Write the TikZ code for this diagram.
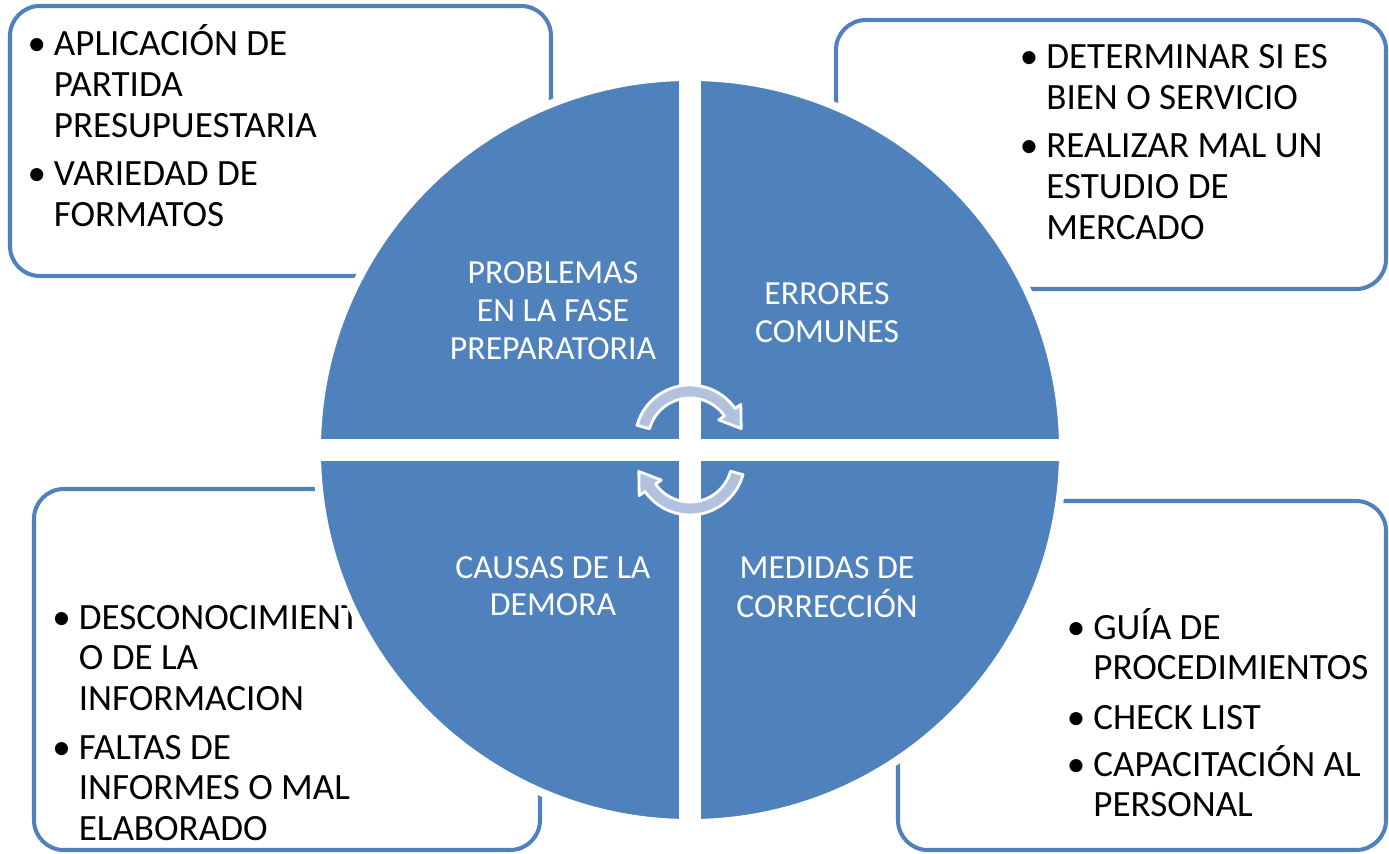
\documentclass[tikz,border=0pt]{standalone}
\usepackage{fontspec}
\setmainfont{Carlito}
\definecolor{azul}{RGB}{79,129,189}
\definecolor{flecha}{RGB}{178,194,222}
\tikzset{
  caja/.style={draw=azul, line width=2.3pt, rounded corners=17pt},
  lista/.style={anchor=base west, inner sep=0pt, font=\fontsize{21.1}{23.3}\selectfont},
  cuarto/.style={anchor=base, inner sep=0pt, text=white, font=\fontsize{19.2}{21.6}\selectfont},
  giro/.style={fill=flecha, draw=white, line width=1.6pt, line join=round}
}
\newcommand{\vineta}[1]{\llap{\textbullet\hspace{4.5pt}}\begin{tabular}[t]{@{}l@{}}#1\end{tabular}}
\newcommand{\centrado}[1]{\begin{tabular}[t]{@{}c@{}}#1\end{tabular}}
\begin{document}
\begin{tikzpicture}[x=0.02cm,y=0.02cm]
  \useasboundingbox (0,0) rectangle (1389,853);
  % cajas de texto
  \draw[caja] (10,577) rectangle (551,847);
  \draw[caja] (836,564) rectangle (1386,833);
  \draw[caja] (34,3) rectangle (540,364);
  \draw[caja] (898,3) rectangle (1386,352);
  \node[lista] (prob1) at (53.6,797) {\vineta{APLICACIÓN DE\\PARTIDA\\PRESUPUESTARIA}};
  \node[lista] (prob2) at (53.6,667) {\vineta{VARIEDAD DE\\FORMATOS}};
  \node[lista] (err1) at (1046,784) {\vineta{DETERMINAR SI ES\\BIEN O SERVICIO}};
  \node[lista] (err2) at (1046,695) {\vineta{REALIZAR MAL UN\\ESTUDIO DE\\MERCADO}};
  \node[lista] (caus1) at (78.5,224) {\vineta{DESCONOCIMIENT\\O DE LA\\INFORMACION}};
  \node[lista] (caus2) at (78.5,94) {\vineta{FALTAS DE\\INFORMES O MAL\\ELABORADO}};
  \node[lista] (med1) at (1093,214) {\vineta{GUÍA DE\\PROCEDIMIENTOS}};
  \node[lista] (med2) at (1093,124) {\vineta{CHECK LIST}};
  \node[lista] (med3) at (1093,77) {\vineta{CAPACITACIÓN AL\\PERSONAL}};
  % circulo en cuatro partes
  \filldraw[fill=azul, draw=white, line width=4.5pt] (690,403) circle (373);
  \fill[white] (679,25) rectangle (701,781);
  \fill[white] (312,392) rectangle (1068,414);
  \node[cuarto] (fase) at (553,569) {\centrado{PROBLEMAS\\EN LA FASE\\PREPARATORIA}};
  \node[cuarto] (errores) at (827,548) {\centrado{ERRORES\\COMUNES}};
  \node[cuarto] (causas) at (553,275) {\centrado{CAUSAS DE LA\\DEMORA}};
  \node[cuarto] (medidas) at (827,275) {\centrado{MEDIDAS DE\\CORRECCIÓN}};
  % flechas del ciclo
  \foreach \rot in {0,180}
    \filldraw[giro, rotate around={\rot:(690,403)}] (637.0,427.7)
      arc[start angle=164.5, end angle=35, radius=55] -- (740.79,448.56)
      -- (741.2,424.4) -- (718.67,433.08) -- (724.40,437.09)
      arc[start angle=35, end angle=164.5, radius=42] -- cycle;
\end{tikzpicture}
\end{document}
